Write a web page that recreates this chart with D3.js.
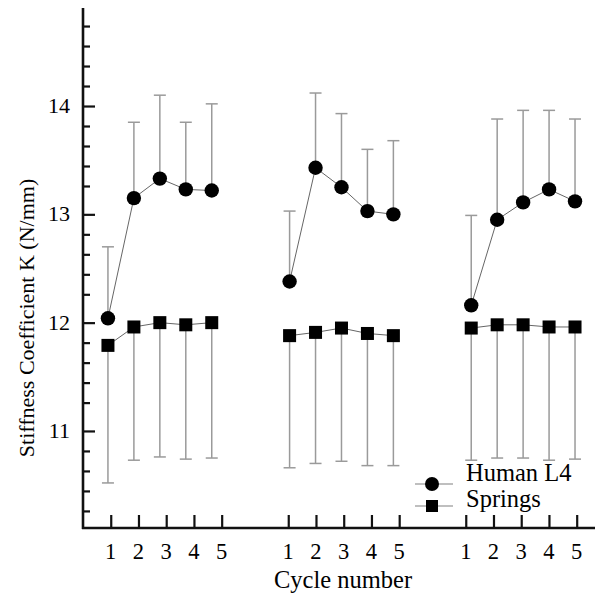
<!DOCTYPE html>
<html>
<head>
<meta charset="utf-8">
<script src="https://cdn.jsdelivr.net/npm/d3@7"></script>
<style>
  body { margin: 0; background: #fff; }
</style>
</head>
<body>
<svg id="chart" width="595" height="594"></svg>
<script>
// data
var cycles = [1, 2, 3, 4, 5];
var groupOffsets = [0, 7, 14];          // marker position of each block of cycles
var tickGroupOffsets = [0, 6.4, 12.8];  // axis tick blocks (drawn slightly off the markers)

var humanMean = [
  [12.04, 13.15, 13.33, 13.23, 13.22],
  [12.38, 13.43, 13.25, 13.03, 13.00],
  [12.16, 12.95, 13.11, 13.23, 13.12]
];
var humanUpper = [
  [12.70, 13.85, 14.10, 13.85, 14.02],
  [13.03, 14.12, 13.93, 13.60, 13.68],
  [12.99, 13.88, 13.96, 13.96, 13.88]
];
var springMean = [
  [11.79, 11.96, 12.00, 11.98, 12.00],
  [11.88, 11.91, 11.95, 11.90, 11.88],
  [11.95, 11.98, 11.98, 11.96, 11.96]
];
var springLower = [
  [10.52, 10.73, 10.76, 10.74, 10.75],
  [10.66, 10.70, 10.72, 10.68, 10.68],
  [10.73, 10.75, 10.75, 10.73, 10.74]
];
var yMajorTicks = [11, 12, 13, 14];
var legendLabels = ["Human L4", "Springs"];

var FONT = "'Liberation Serif', 'DejaVu Serif', serif";

var svg = d3.select("#chart");

var x = d3.scaleLinear().domain([0, 19.77]).range([82, 595]);
var xTick = d3.scaleLinear().domain([0, 18.46]).range([83, 595]);
var y = d3.scaleLinear().domain([10.104, 14.905]).range([528, 8]);

// minor ticks sit 20px apart, hanging off each major tick
var minorStep = 0.1846;
var yMinorTicks = [];
yMajorTicks.forEach(function (m) {
  for (var k = 1; k <= 4; k++) yMinorTicks.push(m - k * minorStep);
});
for (var k = 1; k <= 4; k++) yMinorTicks.push(14 + k * minorStep);

function flatten(arr) {
  var out = [];
  arr.forEach(function (row, g) {
    row.forEach(function (v, i) {
      out.push({ pos: groupOffsets[g] + cycles[i], g: g, i: i, v: v });
    });
  });
  return out;
}

var human = flatten(humanMean);
var springs = flatten(springMean);
human.forEach(function (d) { d.err = humanUpper[d.g][d.i]; });
springs.forEach(function (d) { d.err = springLower[d.g][d.i]; });

// error bars
function drawErr(data) {
  var g = svg.append("g").attr("stroke", "#9a9a9a").attr("stroke-width", 1.5);
  g.selectAll("line.bar").data(data).enter().append("line")
    .attr("x1", function (d) { return x(d.pos); })
    .attr("x2", function (d) { return x(d.pos); })
    .attr("y1", function (d) { return y(d.v); })
    .attr("y2", function (d) { return y(d.err); });
  g.selectAll("line.cap").data(data).enter().append("line")
    .attr("x1", function (d) { return x(d.pos) - 6; })
    .attr("x2", function (d) { return x(d.pos) + 6; })
    .attr("y1", function (d) { return y(d.err); })
    .attr("y2", function (d) { return y(d.err); });
}
drawErr(human);
drawErr(springs);

// connecting lines per block
var line = d3.line().x(function (d) { return x(d.pos); }).y(function (d) { return y(d.v); });
[human, springs].forEach(function (series) {
  groupOffsets.forEach(function (o, g) {
    svg.append("path")
      .datum(series.filter(function (d) { return d.g === g; }))
      .attr("d", line)
      .attr("fill", "none")
      .attr("stroke", "#666")
      .attr("stroke-width", 1);
  });
});

svg.append("g").selectAll("circle").data(human).enter().append("circle")
  .attr("cx", function (d) { return x(d.pos); })
  .attr("cy", function (d) { return y(d.v); })
  .attr("r", 7.2)
  .attr("fill", "#000");

svg.append("g").selectAll("rect").data(springs).enter().append("rect")
  .attr("x", function (d) { return x(d.pos) - 6.5; })
  .attr("y", function (d) { return y(d.v) - 6.5; })
  .attr("width", 13)
  .attr("height", 13)
  .attr("fill", "#000");

// y axis
var yAxis = svg.append("g").attr("transform", "translate(83,0)");
yAxis.call(d3.axisRight(y).tickValues(yMajorTicks).tickSize(12).tickFormat(""));
yAxis.append("g").call(d3.axisRight(y).tickValues(yMinorTicks).tickSize(7).tickFormat(""));
yAxis.selectAll(".domain").remove();
yAxis.selectAll("line").attr("stroke", "#111").attr("stroke-width", 2.2);
svg.append("line").attr("x1", 83).attr("x2", 83).attr("y1", y.range()[1]).attr("y2", y.range()[0] + 1)
  .attr("stroke", "#111").attr("stroke-width", 2.6);

svg.append("g").selectAll("text").data(yMajorTicks).enter().append("text")
  .attr("x", 70).attr("y", function (d) { return y(d) + 7; })
  .attr("text-anchor", "end").attr("font-size", 22).attr("font-family", FONT)
  .text(function (d) { return d; });

// x axis
var xTicks = [];
tickGroupOffsets.forEach(function (o) {
  cycles.forEach(function (c) { xTicks.push({ pos: o + c, label: c }); });
});
var xAxis = svg.append("g").attr("transform", "translate(0,528)");
xAxis.call(d3.axisTop(xTick).tickValues(xTicks.map(function (d) { return d.pos; })).tickSize(13).tickFormat(""));
xAxis.selectAll(".domain").remove();
xAxis.selectAll("line").attr("stroke", "#111").attr("stroke-width", 2.2);
svg.append("line").attr("x1", 82).attr("x2", 595).attr("y1", 528).attr("y2", 528)
  .attr("stroke", "#111").attr("stroke-width", 2.6);

svg.append("g").selectAll("text").data(xTicks).enter().append("text")
  .attr("x", function (d) { return xTick(d.pos); }).attr("y", 559)
  .attr("text-anchor", "middle").attr("font-size", 22.5).attr("font-family", FONT)
  .text(function (d) { return d.label; });

svg.append("text").attr("x", 343).attr("y", 588)
  .attr("text-anchor", "middle").attr("font-size", 24.5).attr("font-family", FONT)
  .text("Cycle number");

svg.append("text")
  .attr("transform", "translate(34,318) rotate(-90)")
  .attr("text-anchor", "middle").attr("font-size", 22).attr("font-family", FONT)
  .text("Stiffness Coefficient K (N/mm)");

// legend
var legend = svg.append("g");
legendLabels.forEach(function (lab, i) {
  var ly = 484 + i * 22;
  legend.append("line").attr("x1", 415).attr("x2", 453).attr("y1", ly).attr("y2", ly)
    .attr("stroke", "#aaa").attr("stroke-width", 1.5);
  if (i === 0) {
    legend.append("circle").attr("cx", 432).attr("cy", ly).attr("r", 7).attr("fill", "#000");
  } else {
    legend.append("rect").attr("x", 426).attr("y", ly - 6).attr("width", 12).attr("height", 12).attr("fill", "#000");
  }
  legend.append("text").attr("x", 466).attr("y", ly - 3 + i * 4).attr("font-size", 24.5)
    .attr("font-family", FONT).text(lab);
});
</script>
</body>
</html>
